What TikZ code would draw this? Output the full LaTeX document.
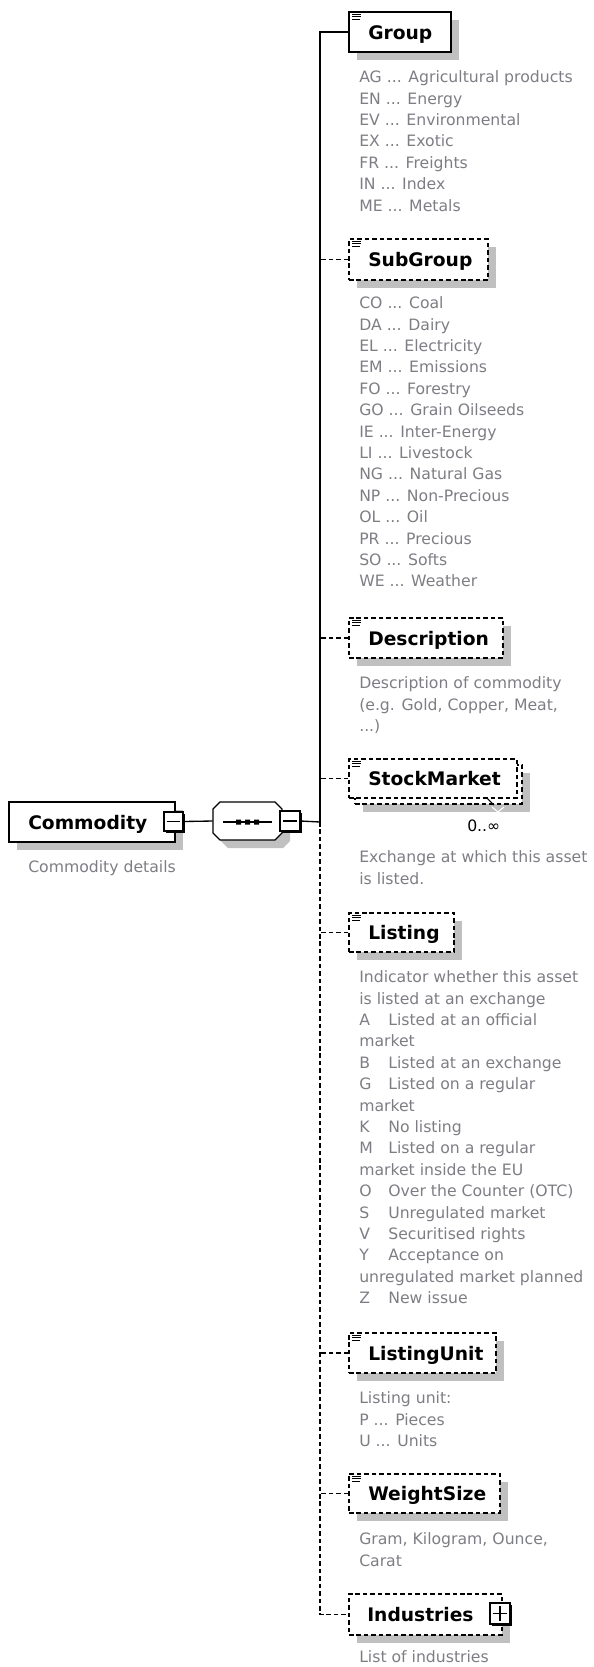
\documentclass[tikz,border=0pt]{standalone}
\usepackage{fontspec}
\setmainfont{DejaVu Sans}
\usetikzlibrary{fit,shadows}
\definecolor{shadowgray}{RGB}{192,192,192}
\definecolor{descgray}{RGB}{125,125,132}
\newcommand\tstrut{\rule{0pt}{12pt}}
\newcommand\lk[1]{\makebox[21.8pt][l]{#1}}
\newcommand\docicon[1]{%
  \draw[line width=0.7pt] ([xshift=3pt,yshift=-2.3pt]#1.north west) -- ++(9,0)
    ([xshift=3pt,yshift=-4.2pt]#1.north west) -- ++(9,0)
    ([xshift=3pt,yshift=-6.1pt]#1.north west) -- ++(8,0);}
\begin{document}
\begin{tikzpicture}[x=0.75pt,y=-0.75pt,
  basebox/.style={draw=black, fill=white, line width=1.1pt, inner sep=0pt,
    drop shadow={shadow xshift=6pt, shadow yshift=-6pt, fill=shadowgray, opacity=1}},
  optbox/.style={basebox, dash pattern=on 3.4pt off 2.2pt},
  pmbox/.style={draw=black, fill=white, line width=0.9pt, inner sep=0pt,
    drop shadow={shadow xshift=1.5pt, shadow yshift=-1.5pt, fill=black, opacity=1}},
  hdr/.style={font=\fontsize{14pt}{17pt}\selectfont\bfseries, anchor=base west, inner sep=0pt},
  desc/.style={font=\fontsize{11.75pt}{16.05pt}\selectfont, text=descgray, align=left,
    anchor=north west, inner sep=0pt},
  conn/.style={line width=1pt},
  dconn/.style={conn, dash pattern=on 3.4pt off 2.2pt},
  pmline/.style={line width=0.8pt}]
\useasboundingbox (0,0) rectangle (593,1667);

% ---------- Commodity ----------
\node[basebox, fit={(9,802) (175,842)}] (commodity) {};
\node[hdr] (commodity-t) at (28,829) {Commodity};
\node[pmbox, fit={(164,812) (183,831)}] (cmin) {};
\draw[pmline] ([xshift=2.5pt]cmin.west) -- ([xshift=-2.5pt]cmin.east);
\node[desc] (commodity-d) at (28,856.5) {\tstrut Commodity details};

% ---------- sequence ----------
\node[inner sep=0pt, fit={(213,802) (282,840)}] (seq) {};
\fill[shadowgray] (221,817) -- (228,810) -- (283,810) -- (290,817) -- (290,841) -- (283,848) -- (228,848) -- (221,841) -- cycle;
\draw[line width=1pt, fill=white] (213,809) -- (220,802) -- (275,802) -- (282,809) -- (282,833) -- (275,840) -- (220,840) -- (213,833) -- cycle;
\draw[line width=1pt] (223,822) -- (272,822);
\fill (236,819.5) rectangle (241,824.5) (245,819.5) rectangle (250,824.5) (254,819.5) rectangle (259,824.5);
\node[pmbox, fit={(280,811) (300,831)}] (smin) {};
\draw[pmline] ([xshift=2.5pt]smin.west) -- ([xshift=-2.5pt]smin.east);
\coordinate (hub) at (320,822);

\draw[conn] (cmin.east) -- (seq.west);
\draw[conn] (smin.east) -- (hub);

% ---------- Group ----------
\node[basebox, fit={(349,12) (451,52)}] (group) {};
\docicon{group}
\node[hdr] (group-t) at (368,39) {Group};
\node[desc] (group-d) at (359,66.5) {\tstrut AG ... Agricultural products\\EN ... Energy\\EV ... Environmental\\EX ... Exotic\\FR ... Freights\\IN ... Index\\ME ... Metals};

% ---------- SubGroup ----------
\node[optbox, fit={(349,239) (488,280)}] (subgroup) {};
\docicon{subgroup}
\node[hdr] (subgroup-t) at (368,266.5) {SubGroup};
\node[desc] (subgroup-d) at (359,292.5) {\tstrut CO ... Coal\\DA ... Dairy\\EL ... Electricity\\EM ... Emissions\\FO ... Forestry\\GO ... Grain Oilseeds\\IE ... Inter-Energy\\LI ... Livestock\\NG ... Natural Gas\\NP ... Non-Precious\\OL ... Oil\\PR ... Precious\\SO ... Softs\\WE ... Weather};

% ---------- Description ----------
\node[optbox, fit={(349,618) (503,658)}] (description) {};
\docicon{description}
\node[hdr] (description-t) at (368,645) {Description};
\node[desc] (description-d) at (359,672.5) {\tstrut Description of commodity\\(e.g. Gold, Copper, Meat,\\...)};

% ---------- StockMarket ----------
\node[optbox, fit={(355,765) (522,804)}] (stockmarket-b) {};
\node[draw=black, fill=white, line width=1.1pt, inner sep=0pt, dash pattern=on 3.4pt off 2.2pt, fit={(349,759) (517,798)}] (stockmarket) {};
\docicon{stockmarket}
\node[hdr] (stockmarket-t) at (368,785.5) {StockMarket};
\draw[line width=0.8pt] (487,798) -- (494,805);
\draw[white, line width=0.8pt] (492,807) -- (498,812) -- (504,807);
\node[anchor=base west, inner sep=0pt, font=\fontsize{11.75pt}{16.05pt}\selectfont] (stockmarket-m) at (467,831.5) {0..∞};
\node[desc] (stockmarket-d) at (359,846.5) {\tstrut Exchange at which this asset\\is listed.};

% ---------- Listing ----------
\node[optbox, fit={(349,913) (454,952)}] (listing) {};
\docicon{listing}
\node[hdr] (listing-t) at (368,939.5) {Listing};
\node[desc] (listing-d) at (359,966.5) {\tstrut Indicator whether this asset\\is listed at an exchange\\\lk{A}Listed at an official\\market\\\lk{B}Listed at an exchange\\\lk{G}Listed on a regular\\market\\\lk{K}No listing\\\lk{M}Listed on a regular\\market inside the EU\\\lk{O}Over the Counter (OTC)\\\lk{S}Unregulated market\\\lk{V}Securitised rights\\\lk{Y}Acceptance on\\unregulated market planned\\\lk{Z}New issue};

% ---------- ListingUnit ----------
\node[optbox, fit={(349,1333) (496,1373)}] (listingunit) {};
\docicon{listingunit}
\node[hdr] (listingunit-t) at (368,1360) {ListingUnit};
\node[desc] (listingunit-d) at (359,1387.5) {\tstrut Listing unit:\\P ... Pieces\\U ... Units};

% ---------- WeightSize ----------
\node[optbox, fit={(349,1474) (500,1513)}] (weightsize) {};
\docicon{weightsize}
\node[hdr] (weightsize-t) at (368,1500.5) {WeightSize};
\node[desc] (weightsize-d) at (359,1528.5) {\tstrut Gram, Kilogram, Ounce,\\Carat};

% ---------- Industries ----------
\node[optbox, fit={(349,1594) (502,1635)}] (industries) {};
\node[hdr] (industries-t) at (367,1621.5) {Industries};
\node[pmbox, fit={(490,1603) (510,1624)}] (iplus) {};
\draw[pmline] ([xshift=2.5pt]iplus.west) -- ([xshift=-2.5pt]iplus.east)
  ([yshift=2.5pt]iplus.south) -- ([yshift=-2.5pt]iplus.north);
\node[desc] (industries-d) at (359,1646.5) {\tstrut List of industries};

% ---------- connectors ----------
\draw[conn] (hub) |- (group.west);
\draw[dconn] (hub) |- (industries.west);
\draw[dconn] (subgroup.west) -- (subgroup.west -| hub);
\draw[dconn] (description.west) -- (description.west -| hub);
\draw[dconn] (stockmarket.west) -- (stockmarket.west -| hub);
\draw[dconn] (listing.west) -- (listing.west -| hub);
\draw[dconn] (listingunit.west) -- (listingunit.west -| hub);
\draw[dconn] (weightsize.west) -- (weightsize.west -| hub);
\end{tikzpicture}
\end{document}
